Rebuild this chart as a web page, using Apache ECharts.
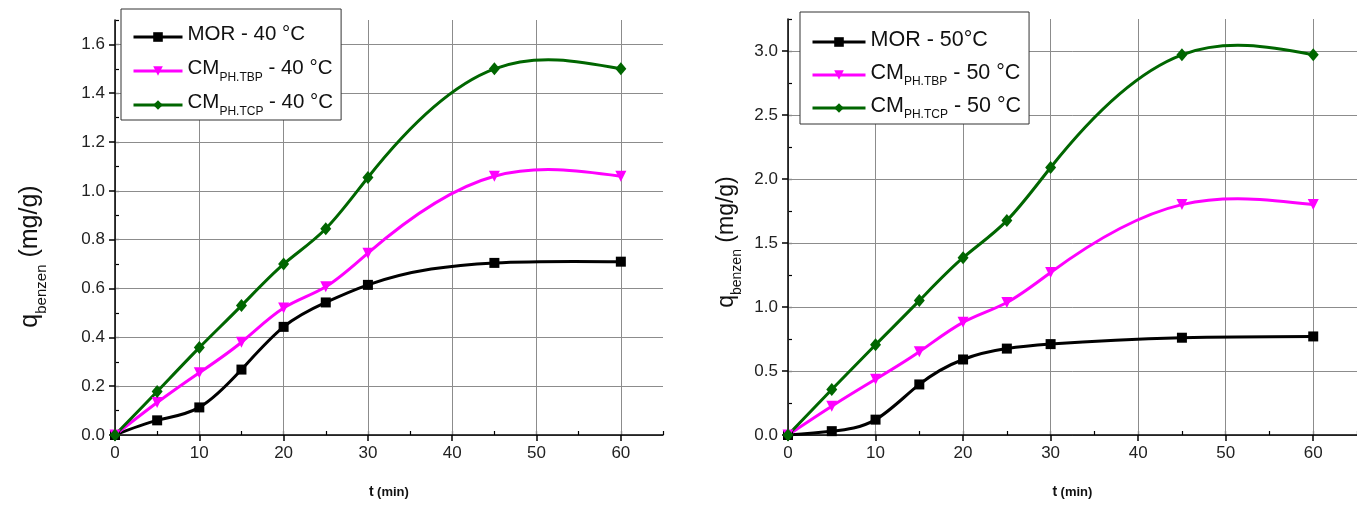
<!DOCTYPE html>
<html>
<head>
<meta charset="utf-8">
<script src="https://cdn.jsdelivr.net/npm/echarts@6/dist/echarts.min.js"></script>
<style>
  html, body { margin: 0; padding: 0; background: #fff; }
  #chart { width: 1357px; height: 506px; }
</style>
</head>
<body>
<div id="chart"></div>
<script>
// Sampling times (min)
const times = [0, 5, 10, 15, 20, 25, 30, 45, 60];

// Benzene uptake q (mg/g) at 40 °C
const mor40 = [0, 0.06, 0.113, 0.268, 0.443, 0.543, 0.615, 0.705, 0.71];
const tbp40 = [0, 0.133, 0.255, 0.38, 0.52, 0.607, 0.745, 1.06, 1.06];
const tcp40 = [0, 0.178, 0.358, 0.53, 0.70, 0.845, 1.055, 1.50, 1.50];

// Benzene uptake q (mg/g) at 50 °C
const mor50 = [0, 0.03, 0.12, 0.395, 0.59, 0.675, 0.71, 0.76, 0.77];
const tbp50 = [0, 0.225, 0.435, 0.65, 0.88, 1.035, 1.27, 1.80, 1.80];
const tcp50 = [0, 0.355, 0.705, 1.05, 1.385, 1.675, 2.09, 2.97, 2.97];

// Legend entries: [main text, subscript, temperature suffix]
const legend40 = [['MOR', '', ' - 40 °C'], ['CM', 'PH.TBP', ' - 40 °C'], ['CM', 'PH.TCP', ' - 40 °C']];
const legend50 = [['MOR', '', ' - 50°C'], ['CM', 'PH.TBP', ' - 50 °C'], ['CM', 'PH.TCP', ' - 50 °C']];

const FONT = '"Liberation Sans", Arial, sans-serif';
const colors = ['#000000', '#ff00ff', '#006600'];
const symbols = ['rect', 'triangle', 'diamond'];
const symbolRot = [0, 180, 0];
const symbolSizes = [10, 11, [11, 13]];

const pair = (xs, ys) => xs.map((x, i) => [x, ys[i]]);
const nameOf = (e) => e[0] + (e[1] ? '_' + e[1] : '') + e[2];

// Natural cubic spline slopes through pixel points (x strictly increasing)
function splineSlopes(pts) {
  const n = pts.length;
  const h = [], M = new Array(n).fill(0);
  for (let i = 0; i < n - 1; i++) h.push(pts[i + 1][0] - pts[i][0]);
  const a = [], b = [], c = [], d = [];
  for (let i = 1; i < n - 1; i++) {
    a.push(h[i - 1]); b.push(2 * (h[i - 1] + h[i])); c.push(h[i]);
    d.push(6 * ((pts[i + 1][1] - pts[i][1]) / h[i] - (pts[i][1] - pts[i - 1][1]) / h[i - 1]));
  }
  const m = a.length;
  for (let i = 1; i < m; i++) {
    const w = a[i] / b[i - 1];
    b[i] -= w * c[i - 1];
    d[i] -= w * d[i - 1];
  }
  const sol = new Array(m).fill(0);
  for (let i = m - 1; i >= 0; i--) sol[i] = (d[i] - (i < m - 1 ? c[i] * sol[i + 1] : 0)) / b[i];
  for (let i = 0; i < m; i++) M[i + 1] = sol[i];
  const s = [];
  for (let i = 0; i < n - 1; i++) {
    s.push((pts[i + 1][1] - pts[i][1]) / h[i] - h[i] * (2 * M[i] + M[i + 1]) / 6);
  }
  const k = n - 2;
  s.push((pts[k + 1][1] - pts[k][1]) / h[k] + h[k] * (M[k] + 2 * M[k + 1]) / 6);
  return s;
}

// Smooth curve through the measured points, one bezier segment per interval
function curveSeries(ys, color, xi, yi) {
  return {
    type: 'custom', name: 'curve', xAxisIndex: xi, yAxisIndex: yi,
    data: pair(times, ys), encode: { x: 0, y: 1 }, z: 3, silent: true,
    renderItem: (params, api) => {
      const i = params.dataIndex;
      if (i === 0) return null;
      const pts = times.map((t, k) => api.coord([t, ys[k]]));
      const sl = splineSlopes(pts);
      const p0 = pts[i - 1], p1 = pts[i];
      const dx = (p1[0] - p0[0]) / 3;
      return {
        type: 'bezierCurve',
        shape: {
          x1: p0[0], y1: p0[1], x2: p1[0], y2: p1[1],
          cpx1: p0[0] + dx, cpy1: p0[1] + sl[i - 1] * dx,
          cpx2: p1[0] - dx, cpy2: p1[1] - sl[i] * dx
        },
        style: { stroke: color, lineWidth: 3, fill: null, lineCap: 'round' }
      };
    }
  };
}

function majorX(gridIndex) {
  return {
    type: 'value', gridIndex, min: 0, max: 65, interval: 10, z: 2,
    axisLine: { show: true, lineStyle: { color: '#000', width: 1.5 } },
    axisTick: { show: true, inside: false, length: 6, lineStyle: { color: '#000', width: 1.5 } },
    axisLabel: { show: true, showMaxLabel: false, margin: 10, fontSize: 17, color: '#222', fontFamily: FONT },
    splitLine: { show: true, showMaxLine: false, lineStyle: { color: '#8c8c8c', width: 1 } },
    name: '{t|t} {m|(min)}', nameLocation: 'middle', nameGap: 50,
    nameTextStyle: {
      rich: {
        t: { fontSize: 14, fontWeight: 'bold', fontFamily: FONT, color: '#111' },
        m: { fontSize: 13, fontWeight: 'bold', fontFamily: FONT, color: '#111' }
      }
    }
  };
}
function minorX(gridIndex) {
  return {
    type: 'value', gridIndex, min: 0, max: 65, interval: 5, z: 1,
    axisLine: { show: false },
    axisTick: { show: true, inside: false, length: 4, lineStyle: { color: '#000', width: 1.2 } },
    axisLabel: { show: false },
    splitLine: { show: true, showMinLine: false, showMaxLine: false,
      lineStyle: { color: ['rgba(0,0,0,0)', '#cfcfcf'], type: [2, 2], width: 1 } }
  };
}
function majorY(gridIndex, max, interval, gap, shift, fs, subFs) {
  return {
    type: 'value', gridIndex, min: 0, max, interval, z: 2,
    axisLine: { show: true, lineStyle: { color: '#000', width: 1.5 } },
    axisTick: { show: true, inside: false, length: 6, lineStyle: { color: '#000', width: 1.5 } },
    axisLabel: { show: true, showMaxLabel: false, margin: 10, fontSize: 17, color: '#222', fontFamily: FONT,
      formatter: (v) => v.toFixed(1) },
    splitLine: { show: true, showMaxLine: false, lineStyle: { color: '#8c8c8c', width: 1 } },
    name: '{q|q}{s|benzen}{q| (mg/g)}', nameLocation: 'middle', nameRotate: 90, nameGap: gap,
    nameTextStyle: {
      padding: [0, shift, 0, 0],
      rich: {
        q: { fontSize: fs, fontFamily: FONT, color: '#111', lineHeight: fs + 6, verticalAlign: 'top' },
        s: { fontSize: subFs, fontFamily: FONT, color: '#111', lineHeight: 6, verticalAlign: 'bottom' }
      }
    }
  };
}
function minorY(gridIndex, max, interval) {
  return {
    type: 'value', gridIndex, min: 0, max, interval, z: 1,
    axisLine: { show: false },
    axisTick: { show: true, inside: false, length: 4, lineStyle: { color: '#000', width: 1.2 } },
    axisLabel: { show: false },
    splitLine: { show: true, showMinLine: false, showMaxLine: false,
      lineStyle: { color: ['rgba(0,0,0,0)', '#cfcfcf'], type: [2, 2], width: 1 } }
  };
}

// Markers at the measured points; the connecting curve is drawn by curveSeries
function makeSeries(entries, dataList, xi, yi) {
  const out = [];
  entries.forEach((e, i) => {
    out.push(curveSeries(dataList[i], colors[i], xi, yi));
    out.push({
      type: 'line', name: nameOf(e), xAxisIndex: xi, yAxisIndex: yi,
      data: pair(times, dataList[i]),
      symbol: symbols[i], symbolRotate: symbolRot[i], symbolSize: symbolSizes[i],
      lineStyle: { color: colors[i], width: 3, opacity: 0 },
      itemStyle: { color: colors[i] },
      z: 6 + i
    });
  });
  return out;
}

function makeLegend(entries, left, top, fs, iconW, gap, padTop, padBottom) {
  return {
    orient: 'vertical', left, top,
    data: entries.map(e => ({ name: nameOf(e) })),
    itemWidth: iconW, itemHeight: 12, itemGap: gap,
    padding: [padTop, 8, padBottom, 11],
    lineStyle: { opacity: 1, width: 3 },
    backgroundColor: '#fff', borderColor: '#333', borderWidth: 1, borderRadius: 0,
    selectedMode: false,
    formatter: (name) => {
      const e = entries.find(x => nameOf(x) === name);
      // the zero-width strut keeps every row the same height
      return '{n|' + e[0] + '}{s|' + (e[1] || '\u200b') + '}{n|' + e[2] + '}';
    },
    textStyle: {
      rich: {
        n: { fontSize: fs, fontFamily: FONT, color: '#111', lineHeight: 26, verticalAlign: 'top' },
        s: { fontSize: 12, fontFamily: FONT, color: '#111', lineHeight: 6, verticalAlign: 'bottom' }
      }
    }
  };
}

const chart = echarts.init(document.getElementById('chart'), null, { renderer: 'canvas' });
chart.setOption({
  animation: false,
  backgroundColor: '#fff',
  grid: [
    { left: 115, top: 20, width: 548, bottom: 71 },
    { left: 788, top: 19, right: -5, bottom: 71 }
  ],
  // axes 0/2 carry labels and solid grid; 1/3 carry the dotted minor grid
  xAxis: [majorX(0), minorX(0), majorX(1), minorX(1)],
  yAxis: [
    majorY(0, 1.7, 0.2, 66, 58, 25, 15), minorY(0, 1.7, 0.1),
    majorY(1, 3.25, 0.5, 44, 30, 23, 14), minorY(1, 3.25, 0.25)
  ],
  legend: [
    makeLegend(legend40, 121, 9, 20.5, 49, 8, 15, 2),
    makeLegend(legend50, 800, 12, 21.5, 53, 7, 17, 3)
  ],
  series: [
    ...makeSeries(legend40, [mor40, tbp40, tcp40], 0, 0),
    ...makeSeries(legend50, [mor50, tbp50, tcp50], 2, 2)
  ]
});
</script>
</body>
</html>
